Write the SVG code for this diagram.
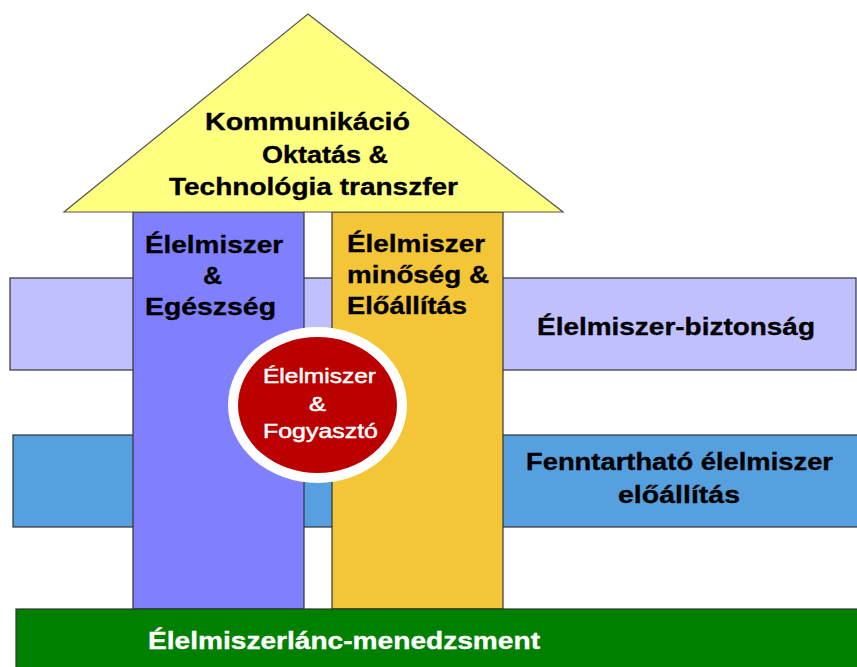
<svg xmlns="http://www.w3.org/2000/svg" width="857" height="667" viewBox="0 0 857 667">
<style>
.b{font-family:"Liberation Sans",Arial,sans-serif;font-weight:bold;font-size:24px;fill:#000;stroke:#000;stroke-width:0.35}
.w{fill:#fff;stroke:#fff}
.c{font-family:"Liberation Sans",Arial,sans-serif;font-weight:normal;font-size:21px;fill:#fff;stroke:#fff;stroke-width:0.5}
.s{stroke:#333;stroke-width:1.2}
</style>
<rect width="857" height="667" fill="#fff"/>
<g id="band-biztonsag">
<rect class="s" x="10" y="278" width="846" height="92" fill="#C0C0FF"/>
<text class="b" x="537" y="335" textLength="278" lengthAdjust="spacingAndGlyphs">Élelmiszer-biztonság</text>
</g>
<g id="band-fenntarthato">
<rect class="s" x="13" y="435" width="845" height="92" fill="#57A0E0"/>
<text class="b" x="526" y="470" textLength="307" lengthAdjust="spacingAndGlyphs">Fenntartható élelmiszer</text>
<text class="b" x="618" y="503" textLength="122" lengthAdjust="spacingAndGlyphs">előállítás</text>
</g>
<g id="pillar-egeszseg">
<rect class="s" x="133" y="212" width="171" height="397" fill="#8080FF"/>
<text class="b" x="145" y="253" textLength="138" lengthAdjust="spacingAndGlyphs">Élelmiszer</text>
<text class="b" x="203" y="284" textLength="19" lengthAdjust="spacingAndGlyphs">&amp;</text>
<text class="b" x="145" y="315" textLength="131" lengthAdjust="spacingAndGlyphs">Egészség</text>
</g>
<g id="pillar-minoseg">
<rect class="s" x="332" y="212" width="171" height="397" fill="#F3C537"/>
<text class="b" x="347" y="252" textLength="138" lengthAdjust="spacingAndGlyphs">Élelmiszer</text>
<text class="b" x="347" y="283" textLength="142" lengthAdjust="spacingAndGlyphs">minőség &amp;</text>
<text class="b" x="347" y="314" textLength="120" lengthAdjust="spacingAndGlyphs">Előállítás</text>
</g>
<g id="roof">
<polygon points="308,14 563,212 64,212" fill="#FFFF80" stroke="#555" stroke-width="1.2"/>
<text class="b" x="205" y="130" textLength="205" lengthAdjust="spacingAndGlyphs">Kommunikáció</text>
<text class="b" x="262" y="163" textLength="126" lengthAdjust="spacingAndGlyphs">Oktatás &amp;</text>
<text class="b" x="169" y="195" textLength="289" lengthAdjust="spacingAndGlyphs">Technológia transzfer</text>
</g>
<g id="foundation">
<rect class="s" x="16" y="609" width="845" height="62" fill="#008000"/>
<text class="b w" x="148" y="649" textLength="392" lengthAdjust="spacingAndGlyphs">Élelmiszerlánc-menedzsment</text>
</g>
<g id="center-fogyaszto">
<ellipse cx="317.5" cy="405" rx="89.5" ry="78" fill="#fff"/>
<ellipse cx="317.5" cy="405" rx="79.5" ry="68" fill="#BB0000"/>
<text class="c" x="263" y="383" textLength="113" lengthAdjust="spacingAndGlyphs">Élelmiszer</text>
<text class="c" x="309" y="411" textLength="17" lengthAdjust="spacingAndGlyphs">&amp;</text>
<text class="c" x="263" y="438" textLength="115" lengthAdjust="spacingAndGlyphs">Fogyasztó</text>
</g>
</svg>
